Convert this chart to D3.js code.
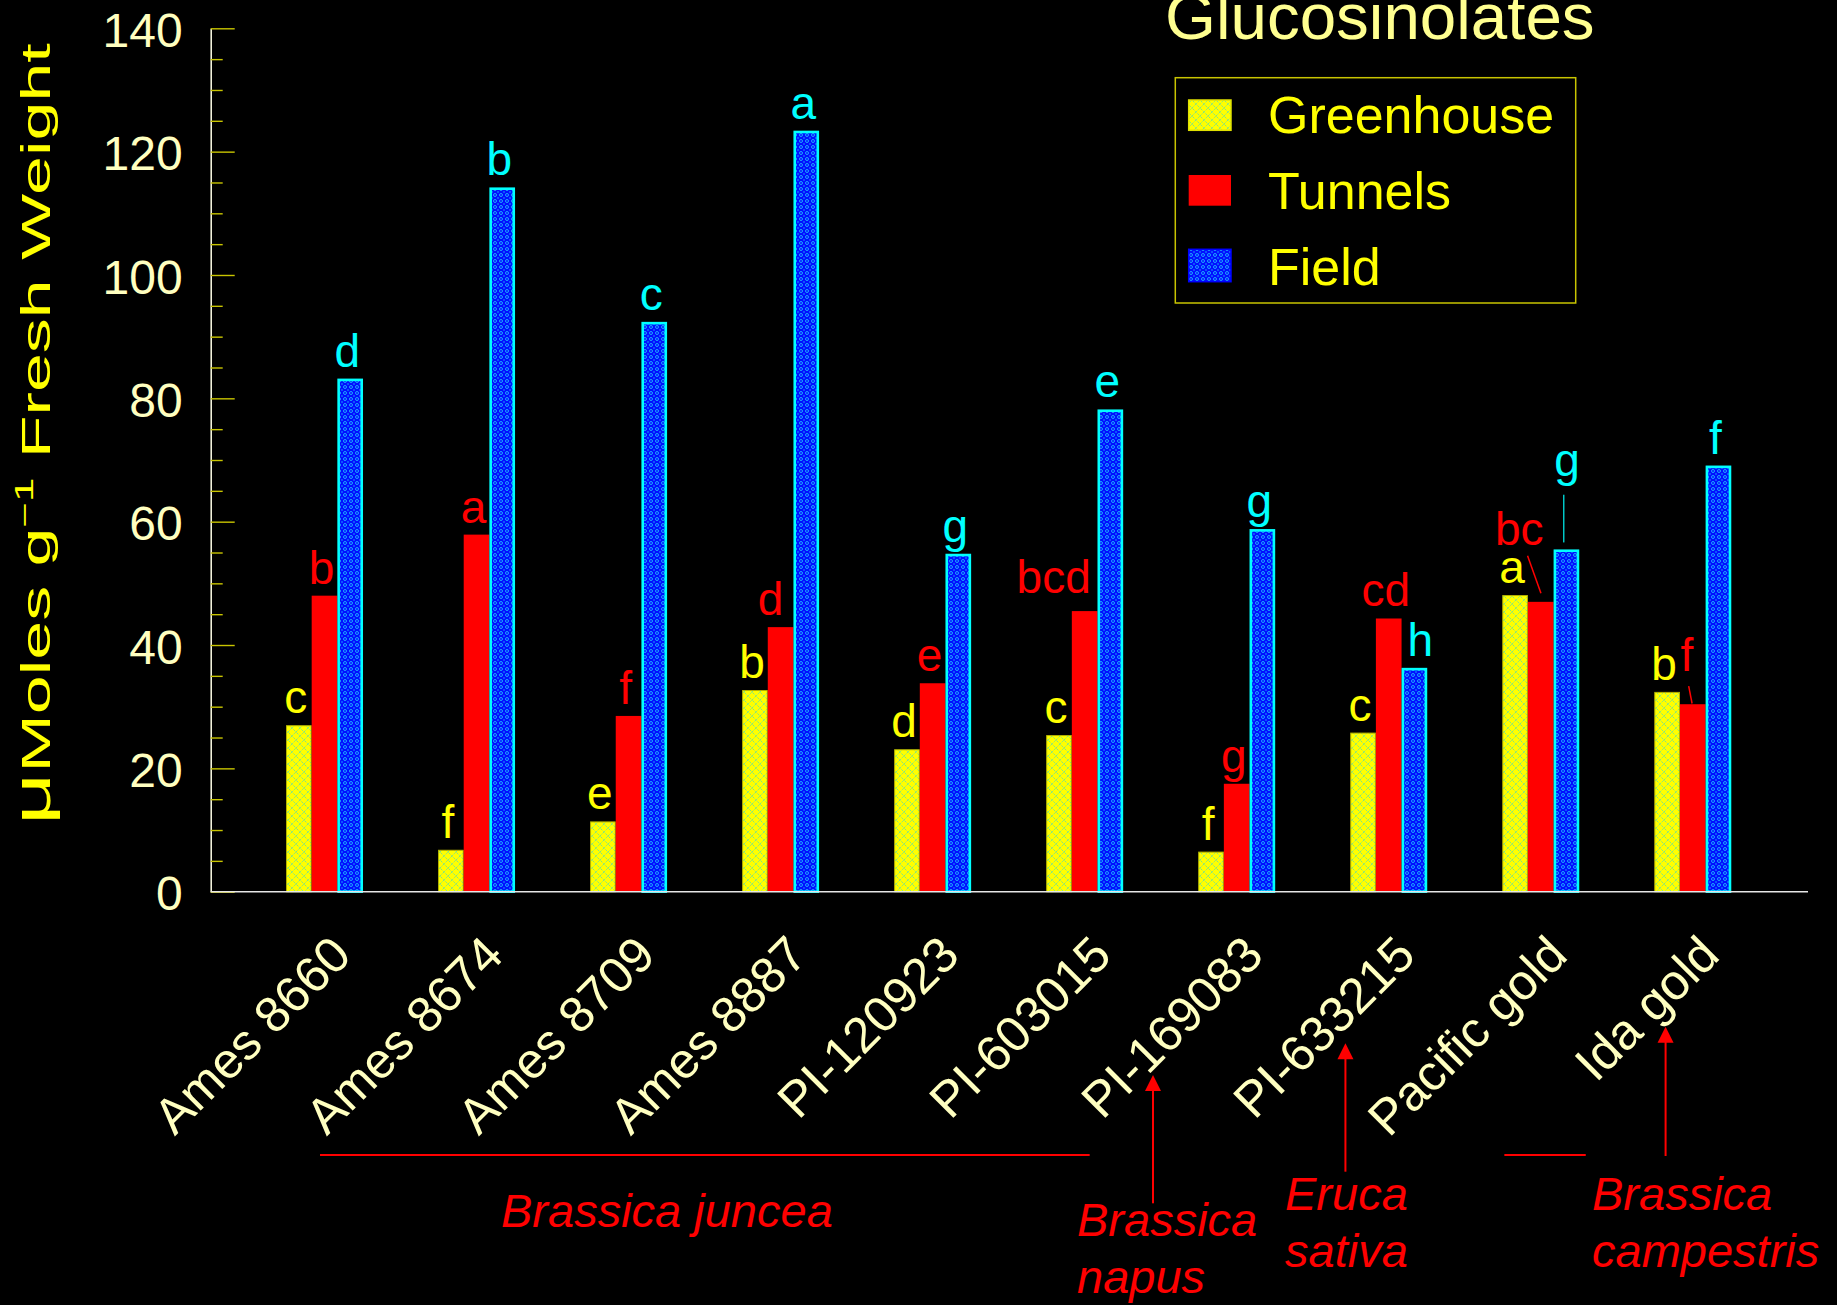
<!DOCTYPE html>
<html>
<head>
<meta charset="utf-8">
<script src="https://cdn.jsdelivr.net/npm/d3@7"></script>
<style>
  html, body { margin: 0; padding: 0; background: #000; }
  svg { display: block; }
  text { font-family: "Liberation Sans", Arial, Helvetica, sans-serif; }
</style>
</head>
<body>
<svg id="chart" width="1837" height="1305"></svg>
<script>
// Glucosinolate content by accession and growing environment
const categories = ["Ames 8660", "Ames 8674", "Ames 8709", "Ames 8887", "PI-120923",
                    "PI-603015", "PI-169083", "PI-633215", "Pacific gold", "Ida gold"];
const seriesNames = ["Greenhouse", "Tunnels", "Field"];

const greenhouse = [27.0, 6.8, 11.4, 32.7, 23.1, 25.4, 6.5, 25.8, 48.1, 32.4];
const tunnels    = [48.0, 57.9, 28.5, 42.9, 33.8, 45.5, 17.5, 44.3, 47.0, 30.4];
const field      = [83.2, 114.2, 92.4, 123.4, 54.8, 78.2, 58.8, 36.3, 55.5, 69.1];

// mean separation letters
const greenhouseLetters = ["c", "f", "e", "b", "d", "c", "f", "c", "a", "b"];
const tunnelsLetters    = ["b", "a", "f", "d", "e", "bcd", "g", "cd", "bc", "f"];
const fieldLetters      = ["d", "b", "c", "a", "g", "e", "g", "h", "g", "f"];

const yTicks = [0, 20, 40, 60, 80, 100, 120, 140];

// ---- layout ----
const svg = d3.select("#chart");
const axisX = 210.7, axisEnd = 1808;

const y = d3.scaleLinear().domain([0, 140]).range([891.7, 28.3]);
const x = d3.scaleBand().domain(categories).range([248.5, 1768.8]);
const half = x.bandwidth() / 2;
const xs = d3.scaleBand().domain(seriesNames).range([half - 38.5, half + 38.5]);

// ---- fill patterns ----
const defs = svg.append("defs");
const pg = defs.append("pattern").attr("id", "patGreen")
  .attr("patternUnits", "userSpaceOnUse").attr("width", 8).attr("height", 8);
pg.append("rect").attr("width", 8).attr("height", 8).attr("fill", "#ffff00");
pg.append("path").attr("d", "M0,4L4,0L8,4L4,8Z")
  .attr("fill", "none").attr("stroke", "#3fd6c8").attr("stroke-width", 0.8)
  .attr("stroke-dasharray", "1.2,1");

const pb = defs.append("pattern").attr("id", "patBlue")
  .attr("patternUnits", "userSpaceOnUse").attr("width", 6).attr("height", 6);
pb.append("rect").attr("width", 6).attr("height", 6).attr("fill", "#0010ff");
pb.append("circle").attr("cx", 3).attr("cy", 3).attr("r", 1.5)
  .attr("fill", "none").attr("stroke", "#22c8ff").attr("stroke-width", 0.8);
[[0, 0], [6, 0], [0, 6], [6, 6]].forEach(p =>
  pb.append("circle").attr("cx", p[0]).attr("cy", p[1]).attr("r", 0.7).attr("fill", "#22c8ff"));

const series = [
  { name: "Greenhouse", values: greenhouse, letters: greenhouseLetters,
    fill: "url(#patGreen)", stroke: "#b4b400", sw: 1, color: "#ffff00" },
  { name: "Tunnels", values: tunnels, letters: tunnelsLetters,
    fill: "#ff0000", stroke: "none", sw: 0, color: "#ff0000" },
  { name: "Field", values: field, letters: fieldLetters,
    fill: "url(#patBlue)", stroke: "#00ffff", sw: 2.6, color: "#00ffff" }
];

// ---- y axis ----
const creamy = "#ffffc0";
const gy = svg.append("g").attr("transform", `translate(${axisX},0)`)
  .call(d3.axisLeft(y).tickValues(yTicks).tickSize(-24).tickSizeOuter(0).tickPadding(28));
gy.select(".domain").attr("stroke", "#ffffe8").attr("stroke-width", 1.5);
gy.selectAll(".tick line").attr("stroke", "#c8c400").attr("stroke-width", 1.4);
gy.selectAll(".tick text").attr("fill", creamy).attr("font-size", 48)
  .attr("dy", "0.38em").style("font-family", '"Liberation Sans", Arial, sans-serif');

const gyMinor = svg.append("g").attr("transform", `translate(${axisX},0)`)
  .call(d3.axisLeft(y).tickValues(d3.range(5, 140, 5).filter(v => v % 20 !== 0))
    .tickSize(-12).tickSizeOuter(0).tickFormat(""));
gyMinor.select(".domain").remove();
gyMinor.selectAll(".tick line").attr("stroke", "#c8c400").attr("stroke-width", 1.4);

// ---- bars ----
const bars = svg.append("g");
series.forEach(s => {
  bars.selectAll(null).data(categories).enter().append("rect")
    .attr("x", c => x(c) + xs(s.name) + s.sw / 2)
    .attr("y", (c, i) => y(s.values[i]) + s.sw / 2)
    .attr("width", xs.bandwidth() - s.sw)
    .attr("height", (c, i) => y(0) - y(s.values[i]) - s.sw / 2)
    .attr("fill", s.fill)
    .attr("stroke", s.stroke)
    .attr("stroke-width", s.sw);
});

// x baseline
svg.append("line")
  .attr("x1", axisX).attr("x2", axisEnd)
  .attr("y1", y(0)).attr("y2", y(0))
  .attr("stroke", "#e6e6e6").attr("stroke-width", 1.5);

// ---- significance letters ----
// offsets for crowded groups; lead = leader line [x1, y1, x2, y2] relative to bar top centre
const letterNudge = {
  "Ames 8887|Tunnels":    { dx: -7, dy: 0 },
  "PI-603015|Tunnels":    { dx: -28, dy: -6 },
  "PI-633215|Field":      { dx: 9, dy: 0 },
  "Pacific gold|Tunnels": { dx: -18.5, dy: -45, lead: [-13.2, -46, 0.2, -8.7] },
  "Pacific gold|Field":   { dx: 3.7, dy: -61, lead: [-2.7, -54.7, -2.7, -7] },
  "Ida gold|Tunnels":     { dx: -3, dy: -21, lead: [-4.1, -18, -0.7, -0.7] }
};
const letters = svg.append("g");
series.forEach(s => {
  categories.forEach((c, i) => {
    const cx = x(c) + xs(s.name) + xs.bandwidth() / 2;
    const top = y(s.values[i]);
    const n = letterNudge[c + "|" + s.name] || { dx: 0, dy: 0 };
    letters.append("text")
      .attr("x", cx - 3 + n.dx)
      .attr("y", top - 12 + n.dy)
      .attr("text-anchor", "middle")
      .attr("font-size", 46)
      .attr("fill", s.color)
      .text(s.letters[i]);
    if (n.lead) {
      letters.append("line")
        .attr("x1", cx + n.lead[0]).attr("y1", top + n.lead[1])
        .attr("x2", cx + n.lead[2]).attr("y2", top + n.lead[3])
        .attr("stroke", s.name === "Field" ? "#00c8c8" : "#ff0000")
        .attr("stroke-width", 1.5);
    }
  });
});

// ---- category labels ----
const gx = svg.append("g").attr("transform", `translate(0,${y(0)})`)
  .call(d3.axisBottom(x).tickSize(0).tickPadding(0));
gx.select(".domain").remove();
gx.selectAll(".tick text")
  .attr("fill", creamy).attr("font-size", 50)
  .attr("text-anchor", "end")
  .attr("x", 0).attr("y", 0).attr("dy", 0)
  .attr("transform", "translate(29,66) rotate(-45)")
  .style("font-family", '"Liberation Sans", Arial, sans-serif');

// ---- y axis title ----
const yt = svg.append("text")
  .attr("transform", "translate(50,825) rotate(-90) scale(1.75,1)")
  .attr("fill", "#ffff00").attr("font-size", 40);
yt.append("tspan").attr("font-size", 52).text("μ");
yt.append("tspan").text("Moles g");
yt.append("tspan").attr("font-size", 25).attr("dy", -17).text("−1");
yt.append("tspan").attr("dy", 17).text(" Fresh Weight");

// ---- title ----
svg.append("text")
  .attr("x", 1165).attr("y", 39)
  .attr("font-size", 65.5).attr("fill", "#ffff90")
  .text("Glucosinolates");

// ---- legend ----
const lg = svg.append("g");
lg.append("rect")
  .attr("x", 1175.3).attr("y", 77.7).attr("width", 400.4).attr("height", 225.3)
  .attr("fill", "none").attr("stroke", "#c8c400").attr("stroke-width", 1.5);
const legendRows = [
  { s: series[0], y: 100, h: 30.3, border: "#e0e000" },
  { s: series[1], y: 175, h: 30.7, border: "none" },
  { s: series[2], y: 249.3, h: 32.4, border: "#0000ff" }
];
legendRows.forEach(r => {
  lg.append("rect")
    .attr("x", 1188.7).attr("y", r.y).attr("width", 42.3).attr("height", r.h)
    .attr("fill", r.s.fill).attr("stroke", r.border).attr("stroke-width", 1.5);
  lg.append("text")
    .attr("x", 1268).attr("y", r.y + r.h + 3)
    .attr("font-size", 52).attr("fill", "#ffff00")
    .text(r.s.name);
});

// ---- species annotations ----
const red = "#ff0000";
const ctr = c => x(c) + half;
const ann = svg.append("g");
// group brackets
ann.append("line").attr("x1", ctr("Ames 8660") - 4.5).attr("x2", ctr("PI-603015") + 5)
  .attr("y1", 1155).attr("y2", 1155).attr("stroke", red).attr("stroke-width", 2);
ann.append("line").attr("x1", ctr("Pacific gold") - 36.4).attr("x2", ctr("Pacific gold") + 45)
  .attr("y1", 1155).attr("y2", 1155).attr("stroke", red).attr("stroke-width", 2);

// arrows up to single-accession labels
const arrows = [
  { cat: "PI-169083", dx: -83.7, y1: 1203.3, y2: 1075 },
  { cat: "PI-633215", dx: -43.3, y1: 1171.7, y2: 1043.3 },
  { cat: "Ida gold",  dx: -27.2, y1: 1156,   y2: 1026.7 }
];
arrows.forEach(a => {
  const ax = ctr(a.cat) + a.dx;
  ann.append("line").attr("x1", ax).attr("x2", ax)
    .attr("y1", a.y1).attr("y2", a.y2 + 10)
    .attr("stroke", red).attr("stroke-width", 2);
  ann.append("path")
    .attr("d", `M${ax},${a.y2}L${ax - 8},${a.y2 + 16}L${ax + 8},${a.y2 + 16}Z`)
    .attr("fill", red);
});

const speciesText = [
  { lines: ["Brassica juncea"], x: 501, y: 1226.7 },
  { lines: ["Brassica", "napus"], x: 1077, y: 1236 },
  { lines: ["Eruca", "sativa"], x: 1285, y: 1210 },
  { lines: ["Brassica", "campestris"], x: 1592, y: 1210 }
];
speciesText.forEach(t => {
  t.lines.forEach((ln, k) => {
    ann.append("text")
      .attr("x", t.x).attr("y", t.y + k * 57)
      .attr("font-size", 47).attr("font-style", "italic")
      .attr("fill", red).text(ln);
  });
});
</script>
</body>
</html>
